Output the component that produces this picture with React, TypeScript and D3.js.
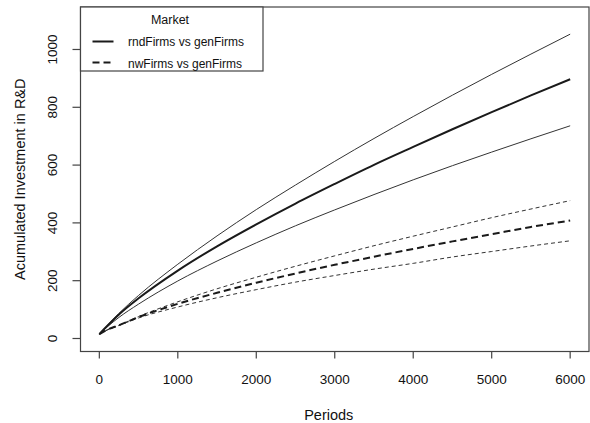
import React from "react";
import * as d3 from "d3";

const periods = [0, 100, 250, 500, 1000, 1500, 2000, 2500, 3000, 3500, 4000, 4500, 5000, 5500, 6000];
const rndUpper = [15, 45, 87, 149, 257, 355, 446, 531, 613, 692, 768, 842, 914, 984, 1053];
const rndMean = [15, 43, 83, 139, 235, 319, 395, 467, 535, 601, 663, 724, 783, 841, 897];
const rndLower = [15, 40, 73, 119, 199, 268, 331, 390, 445, 498, 549, 598, 645, 691, 736];
const nwUpper = [15, 30, 46, 76, 127, 172, 212, 250, 286, 321, 354, 386, 418, 448, 477];
const nwMean = [15, 30, 46, 74, 120, 158, 193, 225, 255, 283, 310, 336, 361, 386, 408];
const nwLower = [15, 29, 45, 71, 109, 141, 169, 195, 218, 240, 260, 282, 301, 320, 338];

const xTicks = [0, 1000, 2000, 3000, 4000, 5000, 6000];
const yTicks = [0, 200, 400, 600, 800, 1000];
const legendLabels = ["rndFirms vs genFirms", "nwFirms vs genFirms"];

const W = 590;
const H = 423;
const left = 80.5, right = 589, top = 7, bottom = 351.5;

export default function App() {
  const x = d3.scaleLinear().domain([-240, 6240]).range([left, right]);
  const y = d3.scaleLinear().domain([-45, 1147]).range([bottom, top]);
  const line = d3
    .line<number>()
    .x((_, i) => x(periods[i]))
    .y((d) => y(d))
    .curve(d3.curveMonotoneX);

  const series = [
    { v: rndUpper, w: 1, dash: undefined, c: "#333" },
    { v: rndLower, w: 1, dash: undefined, c: "#333" },
    { v: rndMean, w: 2, dash: undefined, c: "#1a1a1a" },
    { v: nwUpper, w: 1, dash: "4,3", c: "#333" },
    { v: nwLower, w: 1, dash: "4,3", c: "#333" },
    { v: nwMean, w: 2, dash: "7,4", c: "#1a1a1a" },
  ];

  const font = "'Liberation Sans', Arial, Helvetica, sans-serif";
  const axisColor = "#444";

  return (
    <svg
      width={W}
      height={H}
      style={{ position: "absolute", left: 0, top: 0, background: "#fff" }}
      fontFamily={font}
    >
      <rect x={0} y={0} width={W} height={H} fill="#fff" />
      {series.map((s, i) => (
        <path
          key={i}
          d={line(s.v) || ""}
          fill="none"
          stroke={s.c}
          strokeWidth={s.w}
          strokeDasharray={s.dash}
        />
      ))}
      {/* box */}
      <rect
        x={left}
        y={top}
        width={right - left}
        height={bottom - top}
        fill="none"
        stroke={axisColor}
        strokeWidth={1.2}
      />
      {/* x axis */}
      {xTicks.map((t) => (
        <g key={t}>
          <line x1={x(t)} x2={x(t)} y1={bottom} y2={bottom + 7} stroke={axisColor} strokeWidth={1.2} />
          <text x={x(t)} y={379} textAnchor="middle" dominantBaseline="central" fontSize={13.5} fill="#111">
            {t}
          </text>
        </g>
      ))}
      {/* y axis */}
      {yTicks.map((t) => (
        <g key={t}>
          <line x1={left - 8} x2={left} y1={y(t)} y2={y(t)} stroke={axisColor} strokeWidth={1.2} />
          <text
            x={53}
            y={y(t)}
            textAnchor="middle"
            dominantBaseline="central"
            fontSize={13.5}
            fill="#111"
            transform={`rotate(-90, 53, ${y(t)})`}
          >
            {t}
          </text>
        </g>
      ))}
      <text x={(left + right) / 2 - 6} y={415} textAnchor="middle" dominantBaseline="central" fontSize={14.5} fill="#111">
        Periods
      </text>
      <text
        x={20}
        y={(top + bottom) / 2}
        textAnchor="middle"
        dominantBaseline="central"
        fontSize={14.5}
        fill="#111"
        transform={`rotate(-90, 20, ${(top + bottom) / 2})`}
      >
        Acumulated Investment in R&amp;D
      </text>
      {/* legend */}
      <rect x={left} y={top} width={182.5} height={64} fill="#fff" stroke={axisColor} strokeWidth={1.2} />
      <text x={170} y={20} textAnchor="middle" dominantBaseline="central" fontSize={12.5} fill="#111">
        Market
      </text>
      <line x1={92.5} x2={113.5} y1={41.5} y2={41.5} stroke="#1a1a1a" strokeWidth={2} />
      <line x1={92.5} x2={113.5} y1={62.5} y2={62.5} stroke="#1a1a1a" strokeWidth={2} strokeDasharray="7,4" />
      <text x={128} y={42} dominantBaseline="central" fontSize={12} fill="#111">
        {legendLabels[0]}
      </text>
      <text x={128} y={63.5} dominantBaseline="central" fontSize={12} fill="#111">
        {legendLabels[1]}
      </text>
    </svg>
  );
}
